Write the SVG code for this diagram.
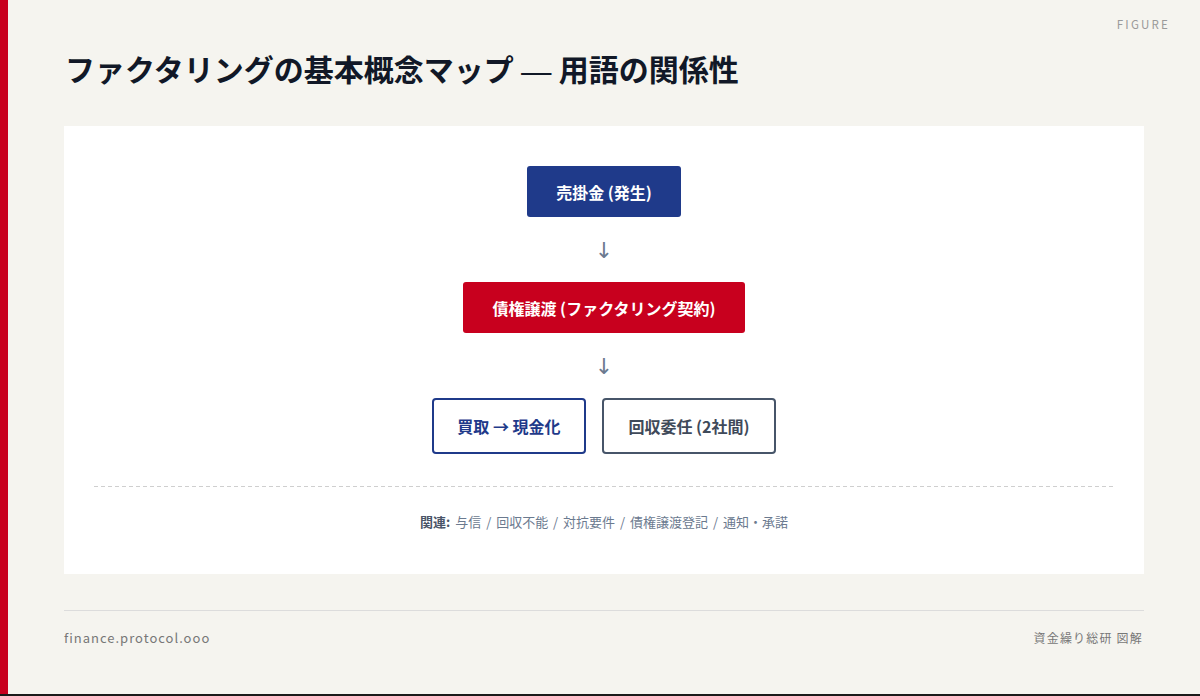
<svg xmlns="http://www.w3.org/2000/svg" width="1200" height="696" viewBox="0 0 1200 696">
<defs>
<style>
.sans{font-family:"Noto Sans CJK JP","Liberation Sans",sans-serif;}
.node-t{font-family:"Noto Sans CJK JP","Liberation Sans",sans-serif;font-size:16px;font-weight:700;text-anchor:middle;dominant-baseline:central;}
.arrow{font-family:"DejaVu Sans","Noto Sans CJK JP",sans-serif;font-size:22px;fill:#6b7a8f;text-anchor:middle;}
</style>
</defs>
<rect x="0" y="0" width="1200" height="696" fill="#f5f4ef"/>
<rect x="0" y="0" width="8" height="696" fill="#c8001e"/>
<rect x="0" y="694" width="1200" height="2" fill="#1a1a1a"/>
<text x="1170" y="29" class="sans" font-size="11.5" letter-spacing="2.2" fill="#9a9a9a" text-anchor="end">FIGURE</text>
<text x="65" y="81" font-family="Liberation Serif,'Noto Sans CJK JP',serif" font-size="30" font-weight="700" fill="#111827">ファクタリングの基本概念マップ — 用語の関係性</text>
<rect x="64" y="126" width="1080" height="448" fill="#ffffff"/>
<g id="connectors">
<text class="arrow" x="604" y="258">↓</text>
<text class="arrow" x="604" y="374">↓</text>
</g>
<g id="node-urikake">
<rect x="527" y="166" width="154" height="51" rx="3" fill="#1f3a8a"/>
<text class="node-t" x="604" y="191.5" fill="#ffffff">売掛金 (発生)</text>
</g>
<g id="node-saiken">
<rect x="463" y="282" width="282" height="51" rx="3" fill="#c8001e"/>
<text class="node-t" x="604" y="307.5" fill="#ffffff">債権譲渡 (ファクタリング契約)</text>
</g>
<g id="node-kaitori">
<rect x="433" y="399" width="152" height="54" rx="3" fill="#ffffff" stroke="#1f3a8a" stroke-width="2"/>
<text class="node-t" x="509" y="426" fill="#1f3a8a">買取 → 現金化</text>
</g>
<g id="node-kaishu">
<rect x="603" y="399" width="172" height="54" rx="3" fill="#ffffff" stroke="#475569" stroke-width="2"/>
<text class="node-t" x="689" y="426" fill="#3f4a5a">回収委任 (2社間)</text>
</g>
<line x1="94" y1="486.5" x2="1114" y2="486.5" stroke="#cfcfcf" stroke-width="1" stroke-dasharray="4 3"/>
<text x="604" y="527" class="sans" font-size="13" word-spacing="2" fill="#6b7a8f" text-anchor="middle"><tspan font-weight="700" fill="#4a5568">関連:</tspan> 与信 / 回収不能 / 対抗要件 / 債権譲渡登記 / 通知・承諾</text>
<line x1="64" y1="610.5" x2="1144" y2="610.5" stroke="#dcdcdc" stroke-width="1"/>
<text x="64" y="643" class="sans" font-size="13" letter-spacing="1" fill="#777777">finance.protocol.ooo</text>
<text x="1143" y="643" class="sans" font-size="12" letter-spacing="1.2" fill="#777777" text-anchor="end">資金繰り総研 図解</text>
</svg>
